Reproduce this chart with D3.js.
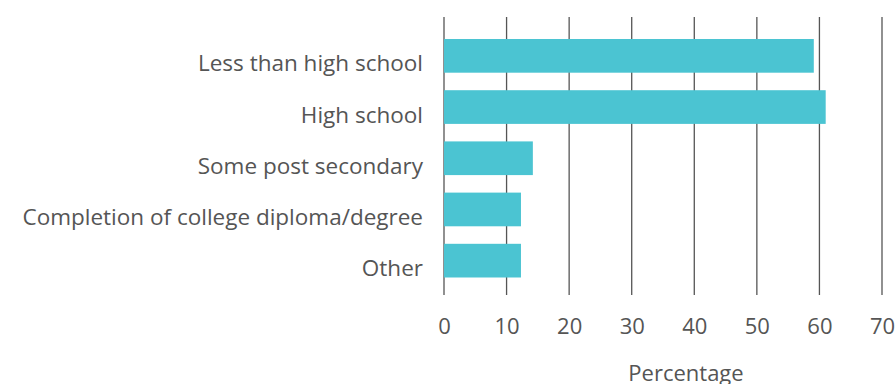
<!DOCTYPE html>
<html><head><meta charset="utf-8">
<script src="https://cdn.jsdelivr.net/npm/d3@7"></script>
<style>
html,body{margin:0;padding:0;background:#fff;}
svg{display:block;}
text{font-family:"Open Sans",sans-serif;fill:#555;}
</style></head>
<body><svg id="c" width="895" height="384"></svg>
<script>
const categories = ["Less than high school","High school","Some post secondary","Completion of college diploma/degree","Other"];
const values = [59.1, 61.0, 14.2, 12.3, 12.3];
const xTicks = [0,10,20,30,40,50,60,70];
const xTitle = "Percentage";

const svg = d3.select("#c");
const x = d3.scaleLinear().domain([0,70]).range([444,882]);
const y = d3.scaleBand().domain(categories).range([30.25,286.25]).paddingInner(0.342).paddingOuter(0.171);

// gridlines
svg.append("g").selectAll("line").data(xTicks).join("line")
  .attr("x1",d=>x(d)).attr("x2",d=>x(d))
  .attr("y1",17).attr("y2",295)
  .attr("stroke","#555").attr("stroke-width",1.3);

// bars
svg.append("g").selectAll("rect").data(values).join("rect")
  .attr("x",x(0)).attr("y",(d,i)=>y(categories[i]))
  .attr("width",d=>x(d)-x(0)).attr("height",y.bandwidth())
  .attr("fill","#4BC4D2");

// category labels
svg.append("g").selectAll("text").data(categories).join("text")
  .attr("x",423).attr("y",d=>y(d)+y.bandwidth()/2+15.5)
  .attr("text-anchor","end")
  .style("font-size","22.5px").text(d=>d);

// x axis
const xAxis = d3.axisBottom(x).tickValues(xTicks).tickSize(0).tickPadding(0);
const ga = svg.append("g").attr("transform","translate(0,334)").call(xAxis);
ga.select(".domain").remove();
ga.selectAll("text").attr("dy",0).attr("y",0)
  .style("font-size","22px").style("font-family","'Open Sans',sans-serif").attr("fill","#555");

svg.append("text").attr("x",686).attr("y",381).attr("text-anchor","middle")
  .style("font-size","22px").text(xTitle);
</script></body></html>
